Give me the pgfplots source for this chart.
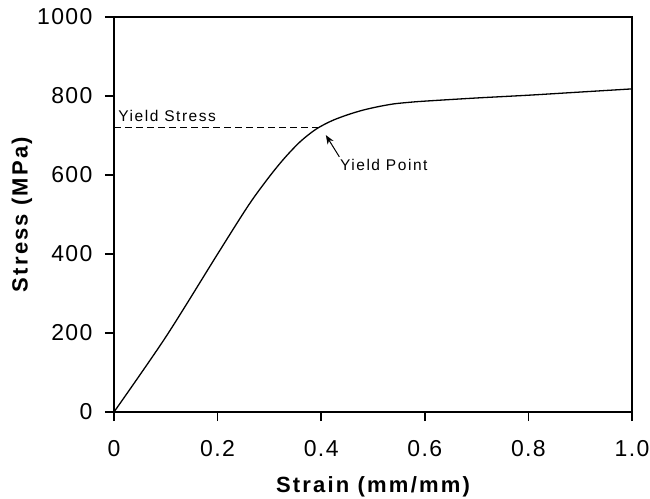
\documentclass[border=0pt]{standalone}
\usepackage{pgfplots}
\pgfplotsset{compat=1.18}
\usepackage{fontspec}
\setmainfont{Liberation Sans}
\newfontfamily\tickfont{Liberation Sans}[LetterSpace=6]
\newfontfamily\labfont{Liberation Sans}[LetterSpace=10]
\newfontfamily\notefont{Liberation Sans}[LetterSpace=10]
\usetikzlibrary{arrows.meta}

\begin{document}
\begin{tikzpicture}
\begin{axis}[
    scale only axis,
    width=518pt, height=395pt,
    xmin=0, xmax=1, ymin=0, ymax=1000,
    xtick={0,0.2,0.4,0.6,0.8,1},
    xticklabels={0,0.2,0.4,0.6,0.8,1.0},
    ytick={0,200,400,600,800,1000},
    axis line style={line width=1.3pt},
    tick align=outside,
    major tick length=9pt,
    major tick style={draw=black, line width=1.5pt},
    xtick pos=bottom, ytick pos=left,
    /pgf/number format/1000 sep={},
    /pgf/number format/assume math mode=true,
    tick label style={font=\tickfont\fontsize{23}{27}\selectfont},
    x tick label style={yshift=-16pt},
    y tick label style={xshift=-9pt},
    label style={font=\labfont\bfseries\fontsize{22}{26}\selectfont},
    xlabel={Strain (mm/mm)},
    ylabel={Stress (MPa)},
    xlabel style={at={(axis description cs:0.5,0)}, anchor=base, yshift=-80pt},
    ylabel style={at={(axis description cs:0,0.5)}, anchor=center, yshift=92pt},
    clip=false,
]
\addplot[black, line width=1.3pt, smooth] coordinates {
  (0,0) (0.1,190) (0.2,400) (0.26,524) (0.3,596)
  (0.33,644) (0.36,685) (0.39,716) (0.42,737) (0.45,752) (0.48,764)
  (0.51,773) (0.54,780) (0.57,784) (0.6,787) (0.7,795) (0.8,802) (0.9,810) (1.0,818)
};
\addplot[black, line width=1pt, dash pattern=on 7pt off 4pt] coordinates {
  (0,720) (0.394,720)
};
\node[anchor=base west, inner sep=0pt, font=\notefont\fontsize{15.5}{18}\selectfont]
  at (axis cs:0.008,735) {Yield Stress};
\draw[-{Stealth[length=9pt,width=7pt]}, line width=1pt]
  (axis cs:0.435,646) -- (axis cs:0.409,701);
\node[anchor=west, inner sep=0pt, font=\notefont\fontsize{15.5}{18}\selectfont]
  at (axis cs:0.436,625) {Yield Point};
\end{axis}
% outward tick marks on the bottom and left edges of the frame
\foreach \i in {0,...,5} {
  \draw[line width=1.5pt, black] ([xshift=\i*103.6pt]current axis.south west) -- ++(0pt,-9pt);
  \draw[line width=1.5pt, black] ([yshift=\i*79pt]current axis.south west) -- ++(-9pt,0pt);
}
\pgfresetboundingbox
\path[use as bounding box] (current axis.south west) ++(-114pt,-86pt) rectangle ++(650pt,498pt);
\end{tikzpicture}
\end{document}
